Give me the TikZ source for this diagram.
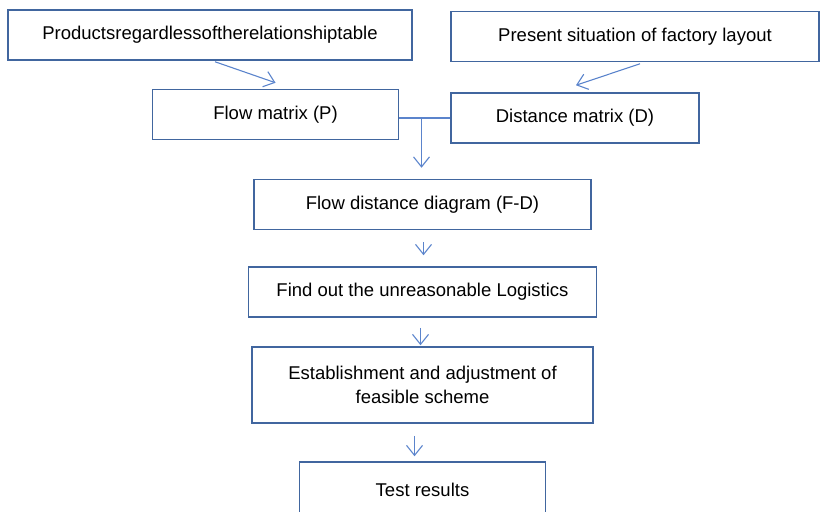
\documentclass[tikz,border=0pt]{standalone}
\usepackage{fontspec}
\setmainfont{Liberation Sans}
\usepackage{tikz}
\usepackage{xcolor}
\usetikzlibrary{arrows.meta,calc,positioning}
\definecolor{boxblue}{HTML}{41669F}
\definecolor{arrowblue}{HTML}{5B84CC}
\tikzset{%
	block/.style    = {draw=boxblue, line width=1.5pt, rectangle, inner sep=0pt, minimum height=50pt, text centered, align=center, font=\fontsize{18.5}{24}\selectfont}, % Box
	arrow/.style    = {draw=arrowblue, line width=1.1pt, -{Straight Barb[length=10pt,width=16pt]}}, % Arrow
	link/.style     = {draw=arrowblue, line width=1.1pt}, % Plain line
}

\begin{document}
\begin{tikzpicture}[x=1pt,y=1pt]
	\useasboundingbox (0,0) rectangle (821,-511);
	\node[block,minimum width=404pt] (pr) at (210,-35) {Productsregardlessoftherelationshiptable};
	\node[block,minimum width=368pt] (lay) at (635,-36.5) {Present situation of factory layout};
	\node[block,minimum width=246pt] (p) at (275.5,-114.5) {Flow matrix (P)};
	\node[block,minimum width=248pt] (d) at (575,-118) {Distance matrix (D)};
	\node[block,minimum width=337pt] (fd) at (422.5,-204.5) {Flow distance diagram (F-D)};
	\node[block,minimum width=348pt,below of=fd,node distance=87.5pt] (find) {Find out the unreasonable Logistics};
	\node[block,minimum width=341pt,minimum height=76pt,below of=find,node distance=93pt] (est) {Establishment and adjustment of\\feasible scheme};
	\node[block,minimum width=246pt,minimum height=56pt,below of=est,node distance=105pt] (res) {Test results};
	\coordinate (j) at ([xshift=-1pt]fd.north |- d.west);
	\draw[arrow] ([xshift=5pt,yshift=-1pt]pr.south) -- ([yshift=6pt]p.north);
	\draw[arrow] ([xshift=5pt,yshift=-1.5pt]lay.south) -- ([xshift=1pt,yshift=7pt]d.north);
	\draw[link] (p.east |- d.west) -- (d.west);
	\draw[arrow] (j) -- ([yshift=11pt]fd.north -| j);
	\draw[arrow] ([xshift=1pt,yshift=-12pt]fd.south) -- ([xshift=1pt,yshift=11pt]find.north);
	\draw[arrow] ([xshift=-2pt,yshift=-10pt]find.south) -- ([xshift=-2pt,yshift=1pt]est.north);
	\draw[arrow] ([xshift=-8pt,yshift=-12pt]est.south) -- ([xshift=-8pt,yshift=5pt]res.north);
\end{tikzpicture}
\end{document}
